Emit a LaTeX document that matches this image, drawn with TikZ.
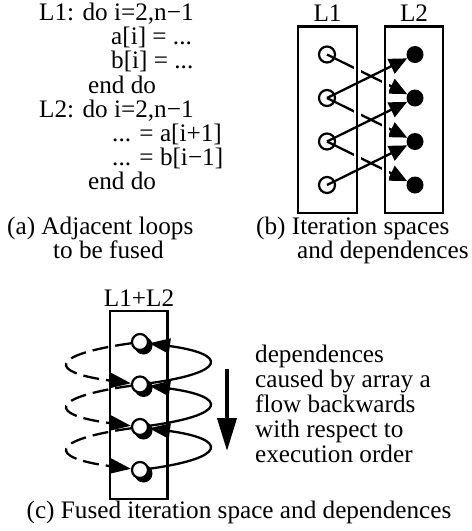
\documentclass[tikz,border=0pt]{standalone}
\usepackage{fontspec}
\setmainfont{Liberation Serif}
\usetikzlibrary{arrows.meta}
\tikzset{
  txt/.style={font=\fontsize{25.2}{25.2}\selectfont, inner sep=0pt, anchor=base west},
  lbl/.style={font=\fontsize{25.2}{25.2}\selectfont, inner sep=0pt, anchor=base},
  boxline/.style={draw, line width=2.3pt},
  halo/.style={preaction={draw=white, line width=7pt}},
  ocirc/.style={circle, draw, line width=2.2pt, minimum size=16pt, inner sep=0pt},
  fcirc/.style={circle, fill=black, minimum size=17pt, inner sep=0pt},
  shcirc/.style={circle, fill=black, minimum size=18pt, inner sep=0pt},
  ccirc/.style={circle, draw, fill=white, line width=2.2pt, minimum size=16pt, inner sep=0pt},
  dep/.style={line width=2.3pt, -{Triangle[length=18pt,width=16pt]}},
  cdep/.style={line width=2.3pt, -{Triangle[length=21pt,width=15pt]}},
  dashdep/.style={cdep, dash pattern=on 16pt off 7pt},
  bigarrow/.style={line width=4pt, -{Triangle[length=33pt,width=19pt]}},
}
\begin{document}
\begin{tikzpicture}[x=1pt,y=-1pt]
\useasboundingbox (0,0) rectangle (472,531);

% ---------- (a) code ----------
\node[txt] (a1) at (39,20.5)  {L1: do i=2,n−1};
\node[txt] (a2) at (111,44.7) {a[i] = ...};
\node[txt] (a3) at (111,68.9) {b[i] = ...};
\node[txt] (a4) at (88,93.1)  {end do};
\node[txt] (a5) at (39,117.3) {L2: do i=2,n−1};
\node[txt] (a6) at (112,141.5) {... = a[i+1]};
\node[txt] (a7) at (112,165.7) {... = b[i−1]};
\node[txt] (a8) at (88,189.9) {end do};
\node[txt] (capa1) at (7,234) {(a) Adjacent loops};
\node[txt] (capa2) at (53,258) {to be fused};

% ---------- (b) iteration spaces ----------
\node[lbl] (lb1) at (327.5,21) {L1};
\node[lbl] (lb2) at (414,21) {L2};
\node[ocirc] (o1) at (327,54.5) {};
\node[ocirc] (o2) at (327,98) {};
\node[ocirc] (o3) at (327,141.5) {};
\node[ocirc] (o4) at (327,185) {};
\node[fcirc] (f1) at (415,54.5) {};
\node[fcirc] (f2) at (415,98) {};
\node[fcirc] (f3) at (415,141.5) {};
\node[fcirc] (f4) at (415,185) {};
% dependences via b (drawn below the box edges)
\draw[dep] (o1.center) -- (f2);
\draw[dep] (o2.center) -- (f3);
\draw[dep] (o3.center) -- (f4);
% boxes
\draw[boxline, halo] (298,26.5) rectangle (357,213);
\draw[boxline, halo] (385,26.5) rectangle (443,213);
% dependences via a
\draw[dep] (o2.center) -- (f1);
\draw[dep] (o3.center) -- (f2);
\draw[dep] (o4.center) -- (f3);
\node[txt] (capb1) at (256,234) {(b) Iteration spaces};
\node[txt] (capb2) at (297,258) {and dependences};

% ---------- (c) fused ----------
\node[lbl] (lc) at (139,306) {L1+L2};
\draw[boxline] (110,311) rectangle (167.5,499);
\foreach \y [count=\k] in {342,384.5,427,470} {
  \node[shcirc] (s\k) at (143.5,\y+3.5) {};
  \node[ccirc] (c\k) at (140,\y) {};
}
\draw[dashdep] (c1) .. controls +(-92,13) and +(-92,-12) .. (c2);
\draw[dashdep] (c2) .. controls +(-92,13) and +(-92,-12) .. (c3);
\draw[dashdep] (c3) .. controls +(-92,13) and +(-92,-12) .. (c4);
\draw[cdep] (c2) .. controls +(88,-12) and +(88,12) .. (c1);
\draw[cdep] (c3) .. controls +(88,-12) and +(88,12) .. (c2);
\draw[cdep] (c4) .. controls +(88,-12) and +(88,12) .. (c3);

\coordinate (ex1) at (227,369);
\coordinate (ex2) at (227,451);
\draw[bigarrow] (ex1) -- (ex2);

\node[txt] (t1) at (255,362) {dependences};
\node[txt] (t2) at (255,387.2) {caused by array a};
\node[txt] (t3) at (255,412.4) {flow backwards};
\node[txt] (t4) at (255,437.6) {with respect to};
\node[txt] (t5) at (255,462.8) {execution order};

\node[lbl] (capc) at (239,518) {(c) Fused iteration space and dependences};
\end{tikzpicture}
\end{document}
